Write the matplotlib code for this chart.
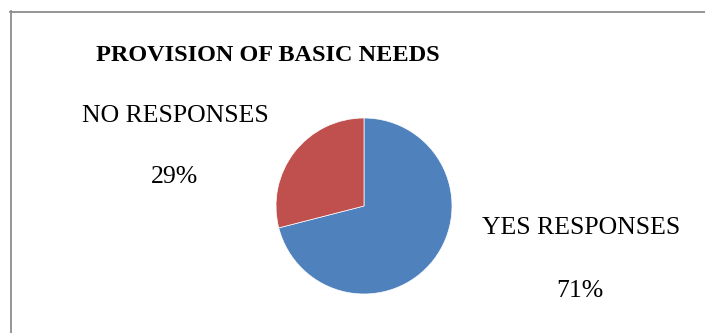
import matplotlib
matplotlib.use("Agg")
import matplotlib.pyplot as plt
from matplotlib.lines import Line2D

# Survey answers on basic needs provision
categories = ["YES RESPONSES", "NO RESPONSES"]
shares = [71, 29]
colors = ["#4F81BD", "#C0504D"]

W, H = 705, 333
fig = plt.figure(figsize=(W / 100, H / 100), dpi=100)
fig.patch.set_facecolor("white")

serif = ["Liberation Serif", "DejaVu Serif"]

# chart frame (left and top edge of the chart area)
fig.add_artist(Line2D([10.5 / W, 10.5 / W], [1 - 11 / H, 0], transform=fig.transFigure,
                      color="#8c8c8c", lw=1.3))
fig.add_artist(Line2D([10 / W, 1], [1 - 11.5 / H, 1 - 11.5 / H], transform=fig.transFigure,
                      color="#8c8c8c", lw=1.3))

# pie area, centred at (364, 206) px with radius 88 px
cx, cy, r = 364, 206, 88
ax = fig.add_axes([(cx - r) / W, (H - cy - r) / H, 2 * r / W, 2 * r / H])
ax.pie(shares, colors=colors, startangle=90, counterclock=False, radius=1,
       wedgeprops=dict(edgecolor="white", linewidth=0.5))
ax.set_xlim(-1, 1)
ax.set_ylim(-1, 1)
ax.set_aspect("equal")
ax.axis("off")

fig.text(268 / W, 1 - 61 / H, "PROVISION OF BASIC NEEDS", ha="center", va="baseline",
         fontsize=17.5, fontweight="bold", family=serif)

# slice labels with percentages
label_pos = {"NO RESPONSES": (175, 122, 174, 183), "YES RESPONSES": (581, 234, 580, 297)}
for name, val in zip(categories, shares):
    lx, ly, px, py = label_pos[name]
    fig.text(lx / W, 1 - ly / H, name, ha="center", va="baseline", fontsize=18.5, family=serif)
    fig.text(px / W, 1 - py / H, f"{val}%", ha="center", va="baseline", fontsize=18.5, family=serif)

fig.savefig("out.png", dpi=100)
